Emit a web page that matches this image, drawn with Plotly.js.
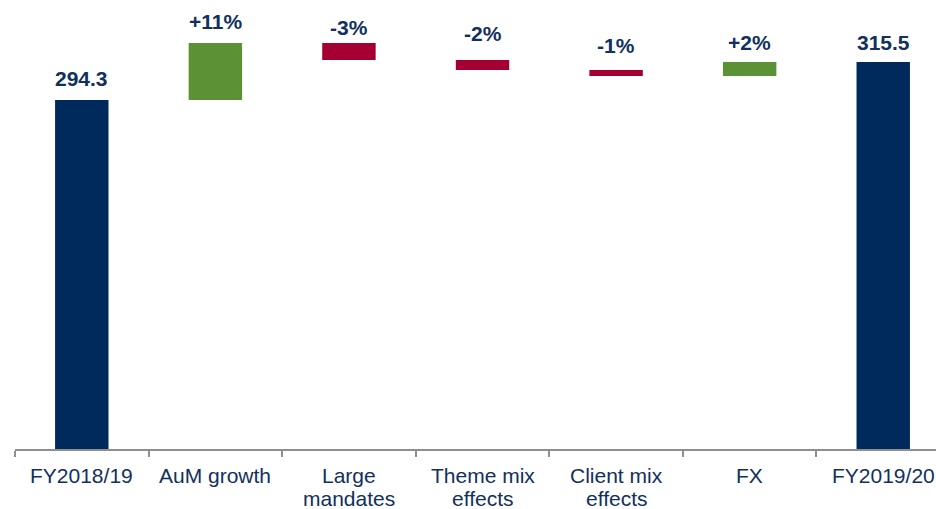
<!DOCTYPE html>
<html>
<head>
<meta charset="utf-8">
<script src="https://cdn.plot.ly/plotly-3.0.1.min.js"></script>
<style>html,body{margin:0;padding:0;background:#fff;overflow:hidden;}#chart{width:936px;height:509px;}</style>
</head>
<body>
<div id="chart"></div>
<script>
// ---- data ----
var categories = ["FY2018/19", "AuM growth", "Large<br>mandates", "Theme mix<br>effects", "Client mix<br>effects", "FX", "FY2019/20"];
var measures = ["absolute", "relative", "relative", "relative", "relative", "relative", "total"];
var values = [294.3, 31.8, -9.5, -5.6, -3.3, 7.8, 315.5];
var labels = ["294.3", "+11%", "-3%", "-2%", "-1%", "+2%", "315.5"];

// ---- styles ----
var NAVY = "#002A5C", GREEN = "#5C9235", RED = "#A50034";
var TEXT = "#12305E";
var FONT = "Liberation Sans, Arial, sans-serif";
var labelShift = [7.5, 7.5, 1.5, 13.5, 11.5, 5.5, 5.5];
var lineShift = [-26, -49];

// build floating bars (base + height) from the data
var bases = [], heights = [], colors = [], tops = [];
var run = 0;
for (var i = 0; i < categories.length; i++) {
  if (measures[i] === "absolute" || measures[i] === "total") {
    run = values[i];
    bases.push(0); heights.push(values[i]); colors.push(NAVY); tops.push(values[i]);
  } else {
    var prev = run; run += values[i];
    bases.push(Math.min(prev, run)); heights.push(Math.abs(values[i]));
    colors.push(values[i] >= 0 ? GREEN : RED); tops.push(Math.max(prev, run));
  }
}

var trace = {
  type: "bar",
  x: categories,
  y: heights,
  base: bases,
  width: 0.4,
  marker: {color: colors, line: {width: 0}},
  textposition: "none",
  hoverinfo: "skip"
};

var annotations = [];
for (var j = 0; j < categories.length; j++) {
  annotations.push({
    x: categories[j], y: tops[j], xref: "x", yref: "y",
    text: "<b>" + labels[j] + "</b>", showarrow: false,
    yanchor: "bottom", yshift: labelShift[j],
    font: {family: FONT, size: 21, color: TEXT}
  });
  // category labels, one annotation per line
  var lines = categories[j].split("<br>");
  for (var k = 0; k < lines.length; k++) {
    annotations.push({
      x: categories[j], y: 0, xref: "x", yref: "paper",
      text: lines[k], showarrow: false,
      yanchor: "middle", yshift: lineShift[k],
      font: {family: FONT, size: 21, color: TEXT}
    });
  }
}

var layout = {
  width: 936, height: 509,
  margin: {l: 15, r: 0, t: 0, b: 60},
  paper_bgcolor: "#fff", plot_bgcolor: "#fff",
  showlegend: false,
  xaxis: {
    type: "category",
    range: [-0.5, 6.395],
    showgrid: false, zeroline: false, showticklabels: false,
    showline: true, linecolor: "#8E8F96", linewidth: 2,
    ticks: "outside", tickson: "boundaries", ticklen: 6, tickwidth: 2, tickcolor: "#8E8F96"
  },
  yaxis: {
    range: [99.4, 350.1],
    showgrid: false, zeroline: false, showticklabels: false, ticks: "", showline: false, fixedrange: true
  },
  annotations: annotations
};

Plotly.newPlot("chart", [trace], layout, {staticPlot: true, displayModeBar: false});
</script>
</body>
</html>
